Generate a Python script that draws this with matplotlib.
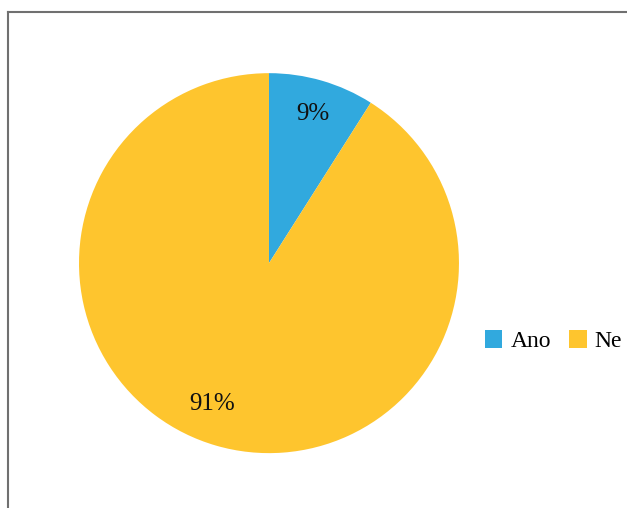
import numpy as np
import matplotlib.pyplot as plt
from matplotlib.lines import Line2D

labels = ['Ano', 'Ne']
values = [9, 91]
colors = ['#31A9DE', '#FEC52E']

plt.rcParams['font.family'] = ['Liberation Serif', 'DejaVu Serif']

fig = plt.figure(figsize=(6.27, 5.08), dpi=100)
ax = fig.add_axes([0.126, 0.108, 0.606, 0.748])

wedges, texts, autotexts = ax.pie(
    values, colors=colors, startangle=90, counterclock=False,
    autopct='%1.0f%%', pctdistance=0.82,
    textprops={'fontsize': 18, 'color': '#111111'},
)
# nudge the big slice's label further round, towards the lower left
ang = np.deg2rad(-112)
autotexts[1].set_position((0.8 * np.cos(ang), 0.8 * np.sin(ang)))
ax.set_xlim(-1, 1)
ax.set_ylim(-1, 1)
ax.set_aspect('equal')

# legend to the right of the pie
fig.legend(wedges, labels, loc='center left', bbox_to_anchor=(0.773, 0.328),
           ncol=2, frameon=False, fontsize=17, handlelength=0.75, handleheight=0.75,
           handletextpad=0.35, columnspacing=0.75, borderaxespad=0, borderpad=0)

# chart frame (only top and left edges fall inside the canvas)
W, H = 627, 508
fig.add_artist(Line2D([8 / W, 1], [1 - 12 / H, 1 - 12 / H], color='#707070', lw=1.5,
                      transform=fig.transFigure))
fig.add_artist(Line2D([8 / W, 8 / W], [0, 1 - 12 / H], color='#707070', lw=1.5,
                      transform=fig.transFigure))

fig.savefig('out.png', dpi=100)
